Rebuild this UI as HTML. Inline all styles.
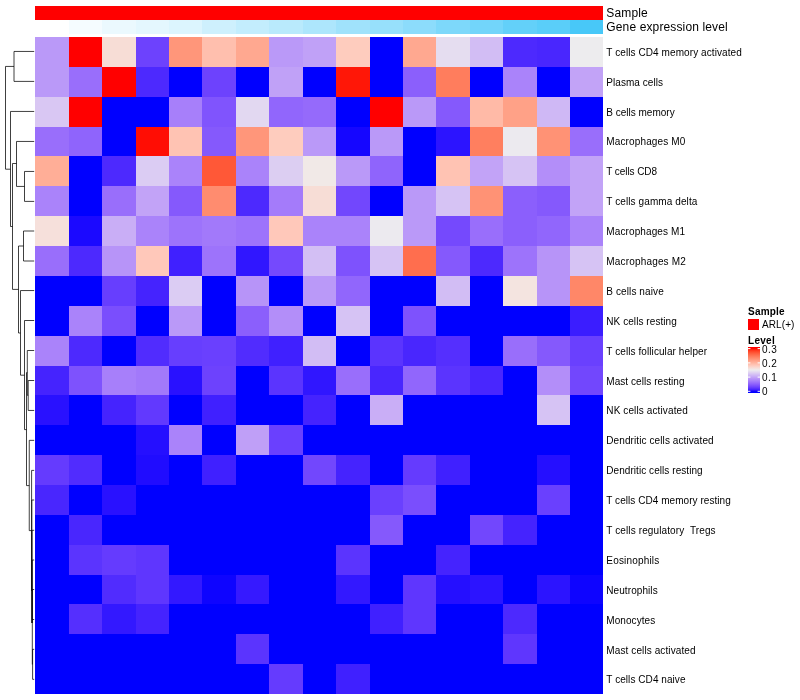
<!DOCTYPE html>
<html><head><meta charset="utf-8"><title>Heatmap</title>
<style>html,body{margin:0;padding:0;background:#fff}svg{display:block}</style></head>
<body>
<svg width="800" height="700" viewBox="0 0 800 700">
<rect width="800" height="700" fill="#fff"/>
<g shape-rendering="crispEdges">
<rect x="35" y="6" width="568" height="14" fill="#ff0000"/>
<rect x="35" y="20" width="34" height="14" fill="#ffffff"/>
<rect x="69" y="20" width="33" height="14" fill="#f5fcff"/>
<rect x="102" y="20" width="34" height="14" fill="#ebf9fe"/>
<rect x="136" y="20" width="33" height="14" fill="#e4f7fe"/>
<rect x="169" y="20" width="33" height="14" fill="#dcf5fe"/>
<rect x="202" y="20" width="34" height="14" fill="#cef0fd"/>
<rect x="236" y="20" width="33" height="14" fill="#c3edfd"/>
<rect x="269" y="20" width="34" height="14" fill="#b9eafc"/>
<rect x="303" y="20" width="33" height="14" fill="#ade6fc"/>
<rect x="336" y="20" width="34" height="14" fill="#a0e2fb"/>
<rect x="370" y="20" width="33" height="14" fill="#97e0fb"/>
<rect x="403" y="20" width="33" height="14" fill="#8cdcfb"/>
<rect x="436" y="20" width="34" height="14" fill="#7dd8fa"/>
<rect x="470" y="20" width="33" height="14" fill="#72d5fa"/>
<rect x="503" y="20" width="34" height="14" fill="#63d0f9"/>
<rect x="537" y="20" width="33" height="14" fill="#5acef9"/>
<rect x="570" y="20" width="33" height="14" fill="#48c8f8"/>
<rect x="35" y="37" width="34" height="30" fill="#ba99f8"/>
<rect x="69" y="37" width="33" height="30" fill="#ff0000"/>
<rect x="102" y="37" width="34" height="30" fill="#f7ddd6"/>
<rect x="136" y="37" width="33" height="30" fill="#6d42fd"/>
<rect x="169" y="37" width="33" height="30" fill="#ff967a"/>
<rect x="202" y="37" width="34" height="30" fill="#ffbfae"/>
<rect x="236" y="37" width="33" height="30" fill="#ffa890"/>
<rect x="269" y="37" width="34" height="30" fill="#ba99f8"/>
<rect x="303" y="37" width="33" height="30" fill="#c0a1f7"/>
<rect x="336" y="37" width="34" height="30" fill="#feccbe"/>
<rect x="370" y="37" width="33" height="30" fill="#0000ff"/>
<rect x="403" y="37" width="33" height="30" fill="#ffa890"/>
<rect x="436" y="37" width="34" height="30" fill="#e5ddf0"/>
<rect x="470" y="37" width="33" height="30" fill="#d2bdf4"/>
<rect x="503" y="37" width="34" height="30" fill="#4d29fe"/>
<rect x="537" y="37" width="33" height="30" fill="#4926fe"/>
<rect x="570" y="37" width="33" height="30" fill="#edecee"/>
<rect x="35" y="67" width="34" height="30" fill="#ba99f8"/>
<rect x="69" y="67" width="33" height="30" fill="#996efb"/>
<rect x="102" y="67" width="34" height="30" fill="#ff0000"/>
<rect x="136" y="67" width="33" height="30" fill="#4d29fe"/>
<rect x="169" y="67" width="33" height="30" fill="#0000ff"/>
<rect x="202" y="67" width="34" height="30" fill="#6d42fd"/>
<rect x="236" y="67" width="33" height="30" fill="#0000ff"/>
<rect x="269" y="67" width="34" height="30" fill="#c0a1f7"/>
<rect x="303" y="67" width="33" height="30" fill="#0000ff"/>
<rect x="336" y="67" width="34" height="30" fill="#ff1707"/>
<rect x="370" y="67" width="33" height="30" fill="#0000ff"/>
<rect x="403" y="67" width="33" height="30" fill="#8b5ffc"/>
<rect x="436" y="67" width="34" height="30" fill="#ff7d5d"/>
<rect x="470" y="67" width="33" height="30" fill="#0000ff"/>
<rect x="503" y="67" width="34" height="30" fill="#aa83fa"/>
<rect x="537" y="67" width="33" height="30" fill="#0000ff"/>
<rect x="570" y="67" width="33" height="30" fill="#c2a3f7"/>
<rect x="35" y="97" width="34" height="30" fill="#d9c7f3"/>
<rect x="69" y="97" width="33" height="30" fill="#ff0000"/>
<rect x="102" y="97" width="34" height="30" fill="#0000ff"/>
<rect x="136" y="97" width="33" height="30" fill="#0000ff"/>
<rect x="169" y="97" width="33" height="30" fill="#a77ffa"/>
<rect x="202" y="97" width="34" height="30" fill="#8054fd"/>
<rect x="236" y="97" width="33" height="30" fill="#e2d8f1"/>
<rect x="269" y="97" width="34" height="30" fill="#9166fc"/>
<rect x="303" y="97" width="33" height="30" fill="#956afb"/>
<rect x="336" y="97" width="34" height="30" fill="#0000ff"/>
<rect x="370" y="97" width="33" height="30" fill="#ff0000"/>
<rect x="403" y="97" width="33" height="30" fill="#ba99f8"/>
<rect x="436" y="97" width="34" height="30" fill="#8559fc"/>
<rect x="470" y="97" width="33" height="30" fill="#ffbaa7"/>
<rect x="503" y="97" width="34" height="30" fill="#ffa187"/>
<rect x="537" y="97" width="33" height="30" fill="#cfb8f5"/>
<rect x="570" y="97" width="33" height="30" fill="#0000ff"/>
<rect x="35" y="127" width="34" height="29" fill="#996efb"/>
<rect x="69" y="127" width="33" height="29" fill="#8f64fc"/>
<rect x="102" y="127" width="34" height="29" fill="#0000ff"/>
<rect x="136" y="127" width="33" height="29" fill="#ff0d04"/>
<rect x="169" y="127" width="33" height="29" fill="#ffc3b3"/>
<rect x="202" y="127" width="34" height="29" fill="#8559fc"/>
<rect x="236" y="127" width="33" height="29" fill="#ff967a"/>
<rect x="269" y="127" width="34" height="29" fill="#feccbe"/>
<rect x="303" y="127" width="33" height="29" fill="#ba99f8"/>
<rect x="336" y="127" width="34" height="29" fill="#1506ff"/>
<rect x="370" y="127" width="33" height="29" fill="#ba99f8"/>
<rect x="403" y="127" width="33" height="29" fill="#0000ff"/>
<rect x="436" y="127" width="34" height="29" fill="#2c14ff"/>
<rect x="470" y="127" width="33" height="29" fill="#ff7f5f"/>
<rect x="503" y="127" width="34" height="29" fill="#eceaef"/>
<rect x="537" y="127" width="33" height="29" fill="#ff9275"/>
<rect x="570" y="127" width="33" height="29" fill="#996efb"/>
<rect x="35" y="156" width="34" height="30" fill="#ffae97"/>
<rect x="69" y="156" width="33" height="30" fill="#0000ff"/>
<rect x="102" y="156" width="34" height="30" fill="#4d29fe"/>
<rect x="136" y="156" width="33" height="30" fill="#dbccf3"/>
<rect x="169" y="156" width="33" height="30" fill="#aa83fa"/>
<rect x="202" y="156" width="34" height="30" fill="#ff5837"/>
<rect x="236" y="156" width="33" height="30" fill="#aa83fa"/>
<rect x="269" y="156" width="34" height="30" fill="#dccef2"/>
<rect x="303" y="156" width="33" height="30" fill="#f1e9e7"/>
<rect x="336" y="156" width="34" height="30" fill="#ba99f8"/>
<rect x="370" y="156" width="33" height="30" fill="#8f64fc"/>
<rect x="403" y="156" width="33" height="30" fill="#0000ff"/>
<rect x="436" y="156" width="34" height="30" fill="#ffc3b3"/>
<rect x="470" y="156" width="33" height="30" fill="#c2a3f7"/>
<rect x="503" y="156" width="34" height="30" fill="#d6c3f4"/>
<rect x="537" y="156" width="33" height="30" fill="#b38ef9"/>
<rect x="570" y="156" width="33" height="30" fill="#c2a3f7"/>
<rect x="35" y="186" width="34" height="30" fill="#aa83fa"/>
<rect x="69" y="186" width="33" height="30" fill="#0000ff"/>
<rect x="102" y="186" width="34" height="30" fill="#996efb"/>
<rect x="136" y="186" width="33" height="30" fill="#c2a3f7"/>
<rect x="169" y="186" width="33" height="30" fill="#8559fc"/>
<rect x="202" y="186" width="34" height="30" fill="#ff8c6f"/>
<rect x="236" y="186" width="33" height="30" fill="#4d29fe"/>
<rect x="269" y="186" width="34" height="30" fill="#a47bfa"/>
<rect x="303" y="186" width="33" height="30" fill="#f7ddd6"/>
<rect x="336" y="186" width="34" height="30" fill="#7247fd"/>
<rect x="370" y="186" width="33" height="30" fill="#0000ff"/>
<rect x="403" y="186" width="33" height="30" fill="#ba99f8"/>
<rect x="436" y="186" width="34" height="30" fill="#d6c3f4"/>
<rect x="470" y="186" width="33" height="30" fill="#ff9275"/>
<rect x="503" y="186" width="34" height="30" fill="#8b5ffc"/>
<rect x="537" y="186" width="33" height="30" fill="#8559fc"/>
<rect x="570" y="186" width="33" height="30" fill="#c2a3f7"/>
<rect x="35" y="216" width="34" height="30" fill="#f6e0db"/>
<rect x="69" y="216" width="33" height="30" fill="#1b09ff"/>
<rect x="102" y="216" width="34" height="30" fill="#c9aef6"/>
<rect x="136" y="216" width="33" height="30" fill="#aa83fa"/>
<rect x="169" y="216" width="33" height="30" fill="#9d73fb"/>
<rect x="202" y="216" width="34" height="30" fill="#a279fa"/>
<rect x="236" y="216" width="33" height="30" fill="#9d73fb"/>
<rect x="269" y="216" width="34" height="30" fill="#ffc8ba"/>
<rect x="303" y="216" width="33" height="30" fill="#aa83fa"/>
<rect x="336" y="216" width="34" height="30" fill="#aa83fa"/>
<rect x="370" y="216" width="33" height="30" fill="#eceaef"/>
<rect x="403" y="216" width="33" height="30" fill="#ba99f8"/>
<rect x="436" y="216" width="34" height="30" fill="#7549fd"/>
<rect x="470" y="216" width="33" height="30" fill="#996efb"/>
<rect x="503" y="216" width="34" height="30" fill="#8b5ffc"/>
<rect x="537" y="216" width="33" height="30" fill="#9166fc"/>
<rect x="570" y="216" width="33" height="30" fill="#aa83fa"/>
<rect x="35" y="246" width="34" height="30" fill="#996efb"/>
<rect x="69" y="246" width="33" height="30" fill="#4d29fe"/>
<rect x="102" y="246" width="34" height="30" fill="#b794f8"/>
<rect x="136" y="246" width="33" height="30" fill="#ffc8ba"/>
<rect x="169" y="246" width="33" height="30" fill="#4020ff"/>
<rect x="202" y="246" width="34" height="30" fill="#9d73fb"/>
<rect x="236" y="246" width="33" height="30" fill="#3016ff"/>
<rect x="269" y="246" width="34" height="30" fill="#7549fd"/>
<rect x="303" y="246" width="33" height="30" fill="#d3bff4"/>
<rect x="336" y="246" width="34" height="30" fill="#7e52fd"/>
<rect x="370" y="246" width="33" height="30" fill="#d6c3f4"/>
<rect x="403" y="246" width="33" height="30" fill="#ff6e4e"/>
<rect x="436" y="246" width="34" height="30" fill="#8559fc"/>
<rect x="470" y="246" width="33" height="30" fill="#4d29fe"/>
<rect x="503" y="246" width="34" height="30" fill="#9d73fb"/>
<rect x="537" y="246" width="33" height="30" fill="#b794f8"/>
<rect x="570" y="246" width="33" height="30" fill="#d6c3f4"/>
<rect x="35" y="276" width="34" height="30" fill="#0000ff"/>
<rect x="69" y="276" width="33" height="30" fill="#0000ff"/>
<rect x="102" y="276" width="34" height="30" fill="#673efe"/>
<rect x="136" y="276" width="33" height="30" fill="#4523fe"/>
<rect x="169" y="276" width="33" height="30" fill="#dbccf3"/>
<rect x="202" y="276" width="34" height="30" fill="#0000ff"/>
<rect x="236" y="276" width="33" height="30" fill="#b794f8"/>
<rect x="269" y="276" width="34" height="30" fill="#0000ff"/>
<rect x="303" y="276" width="33" height="30" fill="#ba99f8"/>
<rect x="336" y="276" width="34" height="30" fill="#9166fc"/>
<rect x="370" y="276" width="33" height="30" fill="#0000ff"/>
<rect x="403" y="276" width="33" height="30" fill="#0000ff"/>
<rect x="436" y="276" width="34" height="30" fill="#d2bdf4"/>
<rect x="470" y="276" width="33" height="30" fill="#0000ff"/>
<rect x="503" y="276" width="34" height="30" fill="#f4e4e0"/>
<rect x="537" y="276" width="33" height="30" fill="#b794f8"/>
<rect x="570" y="276" width="33" height="30" fill="#ff8768"/>
<rect x="35" y="306" width="34" height="30" fill="#0000ff"/>
<rect x="69" y="306" width="33" height="30" fill="#aa83fa"/>
<rect x="102" y="306" width="34" height="30" fill="#7a4efd"/>
<rect x="136" y="306" width="33" height="30" fill="#0000ff"/>
<rect x="169" y="306" width="33" height="30" fill="#ba99f8"/>
<rect x="202" y="306" width="34" height="30" fill="#0000ff"/>
<rect x="236" y="306" width="33" height="30" fill="#8b5ffc"/>
<rect x="269" y="306" width="34" height="30" fill="#b38ef9"/>
<rect x="303" y="306" width="33" height="30" fill="#0000ff"/>
<rect x="336" y="306" width="34" height="30" fill="#d6c3f4"/>
<rect x="370" y="306" width="33" height="30" fill="#0000ff"/>
<rect x="403" y="306" width="33" height="30" fill="#7e52fd"/>
<rect x="436" y="306" width="34" height="30" fill="#0000ff"/>
<rect x="470" y="306" width="33" height="30" fill="#0000ff"/>
<rect x="503" y="306" width="34" height="30" fill="#0000ff"/>
<rect x="537" y="306" width="33" height="30" fill="#0000ff"/>
<rect x="570" y="306" width="33" height="30" fill="#3b1dff"/>
<rect x="35" y="336" width="34" height="30" fill="#aa83fa"/>
<rect x="69" y="336" width="33" height="30" fill="#4d29fe"/>
<rect x="102" y="336" width="34" height="30" fill="#0000ff"/>
<rect x="136" y="336" width="33" height="30" fill="#512cfe"/>
<rect x="169" y="336" width="33" height="30" fill="#673efe"/>
<rect x="202" y="336" width="34" height="30" fill="#6a40fe"/>
<rect x="236" y="336" width="33" height="30" fill="#512cfe"/>
<rect x="269" y="336" width="34" height="30" fill="#4020ff"/>
<rect x="303" y="336" width="33" height="30" fill="#d2bdf4"/>
<rect x="336" y="336" width="34" height="30" fill="#0000ff"/>
<rect x="370" y="336" width="33" height="30" fill="#5b34fe"/>
<rect x="403" y="336" width="33" height="30" fill="#4926fe"/>
<rect x="436" y="336" width="34" height="30" fill="#552ffe"/>
<rect x="470" y="336" width="33" height="30" fill="#0000ff"/>
<rect x="503" y="336" width="34" height="30" fill="#996efb"/>
<rect x="537" y="336" width="33" height="30" fill="#8559fc"/>
<rect x="570" y="336" width="33" height="30" fill="#6a40fe"/>
<rect x="35" y="366" width="34" height="29" fill="#4523fe"/>
<rect x="69" y="366" width="33" height="29" fill="#7e52fd"/>
<rect x="102" y="366" width="34" height="29" fill="#a77ffa"/>
<rect x="136" y="366" width="33" height="29" fill="#a279fa"/>
<rect x="169" y="366" width="33" height="29" fill="#2911ff"/>
<rect x="202" y="366" width="34" height="29" fill="#6d42fd"/>
<rect x="236" y="366" width="33" height="29" fill="#0000ff"/>
<rect x="269" y="366" width="34" height="29" fill="#5b34fe"/>
<rect x="303" y="366" width="33" height="29" fill="#3016ff"/>
<rect x="336" y="366" width="34" height="29" fill="#996efb"/>
<rect x="370" y="366" width="33" height="29" fill="#4926fe"/>
<rect x="403" y="366" width="33" height="29" fill="#9166fc"/>
<rect x="436" y="366" width="34" height="29" fill="#5b34fe"/>
<rect x="470" y="366" width="33" height="29" fill="#4926fe"/>
<rect x="503" y="366" width="34" height="29" fill="#0000ff"/>
<rect x="537" y="366" width="33" height="29" fill="#b38ef9"/>
<rect x="570" y="366" width="33" height="29" fill="#7247fd"/>
<rect x="35" y="395" width="34" height="30" fill="#2911ff"/>
<rect x="69" y="395" width="33" height="30" fill="#0000ff"/>
<rect x="102" y="395" width="34" height="30" fill="#4523fe"/>
<rect x="136" y="395" width="33" height="30" fill="#6239fe"/>
<rect x="169" y="395" width="33" height="30" fill="#0000ff"/>
<rect x="202" y="395" width="34" height="30" fill="#4020ff"/>
<rect x="236" y="395" width="33" height="30" fill="#0000ff"/>
<rect x="269" y="395" width="34" height="30" fill="#0000ff"/>
<rect x="303" y="395" width="33" height="30" fill="#4523fe"/>
<rect x="336" y="395" width="34" height="30" fill="#0000ff"/>
<rect x="370" y="395" width="33" height="30" fill="#c9aef6"/>
<rect x="403" y="395" width="33" height="30" fill="#0000ff"/>
<rect x="436" y="395" width="34" height="30" fill="#0000ff"/>
<rect x="470" y="395" width="33" height="30" fill="#0000ff"/>
<rect x="503" y="395" width="34" height="30" fill="#0000ff"/>
<rect x="537" y="395" width="33" height="30" fill="#d6c3f4"/>
<rect x="570" y="395" width="33" height="30" fill="#0000ff"/>
<rect x="35" y="425" width="34" height="30" fill="#0000ff"/>
<rect x="69" y="425" width="33" height="30" fill="#0000ff"/>
<rect x="102" y="425" width="34" height="30" fill="#0000ff"/>
<rect x="136" y="425" width="33" height="30" fill="#250fff"/>
<rect x="169" y="425" width="33" height="30" fill="#aa83fa"/>
<rect x="202" y="425" width="34" height="30" fill="#0000ff"/>
<rect x="236" y="425" width="33" height="30" fill="#bf9ff7"/>
<rect x="269" y="425" width="34" height="30" fill="#6a40fe"/>
<rect x="303" y="425" width="33" height="30" fill="#0000ff"/>
<rect x="336" y="425" width="34" height="30" fill="#0000ff"/>
<rect x="370" y="425" width="33" height="30" fill="#0000ff"/>
<rect x="403" y="425" width="33" height="30" fill="#0000ff"/>
<rect x="436" y="425" width="34" height="30" fill="#0000ff"/>
<rect x="470" y="425" width="33" height="30" fill="#0000ff"/>
<rect x="503" y="425" width="34" height="30" fill="#0000ff"/>
<rect x="537" y="425" width="33" height="30" fill="#0000ff"/>
<rect x="570" y="425" width="33" height="30" fill="#0000ff"/>
<rect x="35" y="455" width="34" height="30" fill="#653bfe"/>
<rect x="69" y="455" width="33" height="30" fill="#512cfe"/>
<rect x="102" y="455" width="34" height="30" fill="#0000ff"/>
<rect x="136" y="455" width="33" height="30" fill="#200cff"/>
<rect x="169" y="455" width="33" height="30" fill="#0000ff"/>
<rect x="202" y="455" width="34" height="30" fill="#4020ff"/>
<rect x="236" y="455" width="33" height="30" fill="#0000ff"/>
<rect x="269" y="455" width="34" height="30" fill="#0000ff"/>
<rect x="303" y="455" width="33" height="30" fill="#7247fd"/>
<rect x="336" y="455" width="34" height="30" fill="#4523fe"/>
<rect x="370" y="455" width="33" height="30" fill="#0000ff"/>
<rect x="403" y="455" width="33" height="30" fill="#653bfe"/>
<rect x="436" y="455" width="34" height="30" fill="#4020ff"/>
<rect x="470" y="455" width="33" height="30" fill="#0000ff"/>
<rect x="503" y="455" width="34" height="30" fill="#0000ff"/>
<rect x="537" y="455" width="33" height="30" fill="#250fff"/>
<rect x="570" y="455" width="33" height="30" fill="#0000ff"/>
<rect x="35" y="485" width="34" height="30" fill="#4926fe"/>
<rect x="69" y="485" width="33" height="30" fill="#0000ff"/>
<rect x="102" y="485" width="34" height="30" fill="#2911ff"/>
<rect x="136" y="485" width="33" height="30" fill="#0000ff"/>
<rect x="169" y="485" width="33" height="30" fill="#0000ff"/>
<rect x="202" y="485" width="34" height="30" fill="#0000ff"/>
<rect x="236" y="485" width="33" height="30" fill="#0000ff"/>
<rect x="269" y="485" width="34" height="30" fill="#0000ff"/>
<rect x="303" y="485" width="33" height="30" fill="#0000ff"/>
<rect x="336" y="485" width="34" height="30" fill="#0000ff"/>
<rect x="370" y="485" width="33" height="30" fill="#6a40fe"/>
<rect x="403" y="485" width="33" height="30" fill="#7a4efd"/>
<rect x="436" y="485" width="34" height="30" fill="#0000ff"/>
<rect x="470" y="485" width="33" height="30" fill="#0000ff"/>
<rect x="503" y="485" width="34" height="30" fill="#0000ff"/>
<rect x="537" y="485" width="33" height="30" fill="#6a40fe"/>
<rect x="570" y="485" width="33" height="30" fill="#0000ff"/>
<rect x="35" y="515" width="34" height="30" fill="#0000ff"/>
<rect x="69" y="515" width="33" height="30" fill="#4926fe"/>
<rect x="102" y="515" width="34" height="30" fill="#0000ff"/>
<rect x="136" y="515" width="33" height="30" fill="#0000ff"/>
<rect x="169" y="515" width="33" height="30" fill="#0000ff"/>
<rect x="202" y="515" width="34" height="30" fill="#0000ff"/>
<rect x="236" y="515" width="33" height="30" fill="#0000ff"/>
<rect x="269" y="515" width="34" height="30" fill="#0000ff"/>
<rect x="303" y="515" width="33" height="30" fill="#0000ff"/>
<rect x="336" y="515" width="34" height="30" fill="#0000ff"/>
<rect x="370" y="515" width="33" height="30" fill="#8559fc"/>
<rect x="403" y="515" width="33" height="30" fill="#0000ff"/>
<rect x="436" y="515" width="34" height="30" fill="#0000ff"/>
<rect x="470" y="515" width="33" height="30" fill="#7247fd"/>
<rect x="503" y="515" width="34" height="30" fill="#4523fe"/>
<rect x="537" y="515" width="33" height="30" fill="#0000ff"/>
<rect x="570" y="515" width="33" height="30" fill="#0000ff"/>
<rect x="35" y="545" width="34" height="30" fill="#0000ff"/>
<rect x="69" y="545" width="33" height="30" fill="#5b34fe"/>
<rect x="102" y="545" width="34" height="30" fill="#653bfe"/>
<rect x="136" y="545" width="33" height="30" fill="#5f36fe"/>
<rect x="169" y="545" width="33" height="30" fill="#0000ff"/>
<rect x="202" y="545" width="34" height="30" fill="#0000ff"/>
<rect x="236" y="545" width="33" height="30" fill="#0000ff"/>
<rect x="269" y="545" width="34" height="30" fill="#0000ff"/>
<rect x="303" y="545" width="33" height="30" fill="#0000ff"/>
<rect x="336" y="545" width="34" height="30" fill="#5b34fe"/>
<rect x="370" y="545" width="33" height="30" fill="#0000ff"/>
<rect x="403" y="545" width="33" height="30" fill="#0000ff"/>
<rect x="436" y="545" width="34" height="30" fill="#4523fe"/>
<rect x="470" y="545" width="33" height="30" fill="#0000ff"/>
<rect x="503" y="545" width="34" height="30" fill="#0000ff"/>
<rect x="537" y="545" width="33" height="30" fill="#0000ff"/>
<rect x="570" y="545" width="33" height="30" fill="#0000ff"/>
<rect x="35" y="575" width="34" height="29" fill="#0000ff"/>
<rect x="69" y="575" width="33" height="29" fill="#0000ff"/>
<rect x="102" y="575" width="34" height="29" fill="#512cfe"/>
<rect x="136" y="575" width="33" height="29" fill="#5f36fe"/>
<rect x="169" y="575" width="33" height="29" fill="#3318ff"/>
<rect x="202" y="575" width="34" height="29" fill="#0e04ff"/>
<rect x="236" y="575" width="33" height="29" fill="#3619ff"/>
<rect x="269" y="575" width="34" height="29" fill="#0000ff"/>
<rect x="303" y="575" width="33" height="29" fill="#0000ff"/>
<rect x="336" y="575" width="34" height="29" fill="#3318ff"/>
<rect x="370" y="575" width="33" height="29" fill="#0000ff"/>
<rect x="403" y="575" width="33" height="29" fill="#5f36fe"/>
<rect x="436" y="575" width="34" height="29" fill="#250fff"/>
<rect x="470" y="575" width="33" height="29" fill="#2c14ff"/>
<rect x="503" y="575" width="34" height="29" fill="#0000ff"/>
<rect x="537" y="575" width="33" height="29" fill="#2c14ff"/>
<rect x="570" y="575" width="33" height="29" fill="#0e04ff"/>
<rect x="35" y="604" width="34" height="30" fill="#0000ff"/>
<rect x="69" y="604" width="33" height="30" fill="#552ffe"/>
<rect x="102" y="604" width="34" height="30" fill="#3318ff"/>
<rect x="136" y="604" width="33" height="30" fill="#4523fe"/>
<rect x="169" y="604" width="33" height="30" fill="#0000ff"/>
<rect x="202" y="604" width="34" height="30" fill="#0000ff"/>
<rect x="236" y="604" width="33" height="30" fill="#0000ff"/>
<rect x="269" y="604" width="34" height="30" fill="#0000ff"/>
<rect x="303" y="604" width="33" height="30" fill="#0000ff"/>
<rect x="336" y="604" width="34" height="30" fill="#0000ff"/>
<rect x="370" y="604" width="33" height="30" fill="#4020ff"/>
<rect x="403" y="604" width="33" height="30" fill="#5f36fe"/>
<rect x="436" y="604" width="34" height="30" fill="#0000ff"/>
<rect x="470" y="604" width="33" height="30" fill="#0000ff"/>
<rect x="503" y="604" width="34" height="30" fill="#4d29fe"/>
<rect x="537" y="604" width="33" height="30" fill="#0000ff"/>
<rect x="570" y="604" width="33" height="30" fill="#0000ff"/>
<rect x="35" y="634" width="34" height="30" fill="#0000ff"/>
<rect x="69" y="634" width="33" height="30" fill="#0000ff"/>
<rect x="102" y="634" width="34" height="30" fill="#0000ff"/>
<rect x="136" y="634" width="33" height="30" fill="#0000ff"/>
<rect x="169" y="634" width="33" height="30" fill="#0000ff"/>
<rect x="202" y="634" width="34" height="30" fill="#0000ff"/>
<rect x="236" y="634" width="33" height="30" fill="#5b34fe"/>
<rect x="269" y="634" width="34" height="30" fill="#0000ff"/>
<rect x="303" y="634" width="33" height="30" fill="#0000ff"/>
<rect x="336" y="634" width="34" height="30" fill="#0000ff"/>
<rect x="370" y="634" width="33" height="30" fill="#0000ff"/>
<rect x="403" y="634" width="33" height="30" fill="#0000ff"/>
<rect x="436" y="634" width="34" height="30" fill="#0000ff"/>
<rect x="470" y="634" width="33" height="30" fill="#0000ff"/>
<rect x="503" y="634" width="34" height="30" fill="#5f36fe"/>
<rect x="537" y="634" width="33" height="30" fill="#0000ff"/>
<rect x="570" y="634" width="33" height="30" fill="#0000ff"/>
<rect x="35" y="664" width="34" height="30" fill="#0000ff"/>
<rect x="69" y="664" width="33" height="30" fill="#0000ff"/>
<rect x="102" y="664" width="34" height="30" fill="#0000ff"/>
<rect x="136" y="664" width="33" height="30" fill="#0000ff"/>
<rect x="169" y="664" width="33" height="30" fill="#0000ff"/>
<rect x="202" y="664" width="34" height="30" fill="#0000ff"/>
<rect x="236" y="664" width="33" height="30" fill="#0000ff"/>
<rect x="269" y="664" width="34" height="30" fill="#653bfe"/>
<rect x="303" y="664" width="33" height="30" fill="#0000ff"/>
<rect x="336" y="664" width="34" height="30" fill="#4020ff"/>
<rect x="370" y="664" width="33" height="30" fill="#0000ff"/>
<rect x="403" y="664" width="33" height="30" fill="#0000ff"/>
<rect x="436" y="664" width="34" height="30" fill="#0000ff"/>
<rect x="470" y="664" width="33" height="30" fill="#0000ff"/>
<rect x="503" y="664" width="34" height="30" fill="#0000ff"/>
<rect x="537" y="664" width="33" height="30" fill="#0000ff"/>
<rect x="570" y="664" width="33" height="30" fill="#0000ff"/>
</g>
<g font-family="'Liberation Sans', Arial, sans-serif" fill="#000">
<text x="606.3" y="16.5" font-size="12" textLength="41.5">Sample</text>
<text x="606.3" y="31" font-size="12" textLength="121.4">Gene expression level</text>
<text x="606.3" y="56" font-size="10" style="white-space:pre" textLength="135.45" lengthAdjust="spacing">T cells CD4 memory activated</text>
<text x="606.3" y="86" font-size="10" style="white-space:pre" textLength="56.64" lengthAdjust="spacing">Plasma cells</text>
<text x="606.3" y="116" font-size="10" style="white-space:pre" textLength="68.36" lengthAdjust="spacing">B cells memory</text>
<text x="606.3" y="145" font-size="10" style="white-space:pre" textLength="79.02" lengthAdjust="spacing">Macrophages M0</text>
<text x="606.3" y="175" font-size="10" style="white-space:pre" textLength="50.75" lengthAdjust="spacing">T cells CD8</text>
<text x="606.3" y="205" font-size="10" style="white-space:pre" textLength="91.05" lengthAdjust="spacing">T cells gamma delta</text>
<text x="606.3" y="235" font-size="10" style="white-space:pre" textLength="78.77" lengthAdjust="spacing">Macrophages M1</text>
<text x="606.3" y="265" font-size="10" style="white-space:pre" textLength="79.52" lengthAdjust="spacing">Macrophages M2</text>
<text x="606.3" y="295" font-size="10" style="white-space:pre" textLength="57.39" lengthAdjust="spacing">B cells naive</text>
<text x="606.3" y="325" font-size="10" style="white-space:pre" textLength="70.47" lengthAdjust="spacing">NK cells resting</text>
<text x="606.3" y="355" font-size="10" style="white-space:pre" textLength="100.75" lengthAdjust="spacing">T cells follicular helper</text>
<text x="606.3" y="385" font-size="10" style="white-space:pre" textLength="78.25" lengthAdjust="spacing">Mast cells resting</text>
<text x="606.3" y="414" font-size="10" style="white-space:pre" textLength="81.48" lengthAdjust="spacing">NK cells activated</text>
<text x="606.3" y="444" font-size="10" style="white-space:pre" textLength="107.30" lengthAdjust="spacing">Dendritic cells activated</text>
<text x="606.3" y="474" font-size="10" style="white-space:pre" textLength="96.30" lengthAdjust="spacing">Dendritic cells resting</text>
<text x="606.3" y="504" font-size="10" style="white-space:pre" textLength="124.44" lengthAdjust="spacing">T cells CD4 memory resting</text>
<text x="606.3" y="534" font-size="10" style="white-space:pre" textLength="109.28" lengthAdjust="spacing">T cells regulatory  Tregs</text>
<text x="606.3" y="564" font-size="10" style="white-space:pre" textLength="52.91" lengthAdjust="spacing">Eosinophils</text>
<text x="606.3" y="594" font-size="10" style="white-space:pre" textLength="51.34" lengthAdjust="spacing">Neutrophils</text>
<text x="606.3" y="624" font-size="10" style="white-space:pre" textLength="48.86" lengthAdjust="spacing">Monocytes</text>
<text x="606.3" y="654" font-size="10" style="white-space:pre" textLength="89.27" lengthAdjust="spacing">Mast cells activated</text>
<text x="606.3" y="683" font-size="10" style="white-space:pre" textLength="79.19" lengthAdjust="spacing">T cells CD4 naive</text>
<text x="748.1" y="315" font-size="10" font-weight="bold" textLength="36.4">Sample</text>
<text x="762" y="327.8" font-size="10" textLength="32.4">ARL(+)</text>
<text x="748.1" y="343.6" font-size="10" font-weight="bold" textLength="26.6">Level</text>
<text x="762" y="352.8" font-size="10" textLength="14.9">0.3</text>
<text x="762" y="367.0" font-size="10" textLength="14.9">0.2</text>
<text x="762" y="380.5" font-size="10" textLength="14.9">0.1</text>
<text x="762" y="394.6" font-size="10">0</text>
</g>
<rect x="748" y="319" width="11" height="11" fill="#ff0000" shape-rendering="crispEdges"/>
<defs><linearGradient id="lg" x1="0" y1="1" x2="0" y2="0">
<stop offset="0.0000" stop-color="#0000ff"/>
<stop offset="0.0217" stop-color="#0000ff"/>
<stop offset="0.0435" stop-color="#1a08ff"/>
<stop offset="0.0652" stop-color="#3c1dff"/>
<stop offset="0.0870" stop-color="#502bfe"/>
<stop offset="0.1087" stop-color="#6037fe"/>
<stop offset="0.1304" stop-color="#6d43fd"/>
<stop offset="0.1522" stop-color="#794dfd"/>
<stop offset="0.1739" stop-color="#8458fc"/>
<stop offset="0.1957" stop-color="#8e62fc"/>
<stop offset="0.2174" stop-color="#976cfb"/>
<stop offset="0.2391" stop-color="#9f76fb"/>
<stop offset="0.2609" stop-color="#a780fa"/>
<stop offset="0.2826" stop-color="#af8af9"/>
<stop offset="0.3043" stop-color="#b793f8"/>
<stop offset="0.3261" stop-color="#be9df7"/>
<stop offset="0.3478" stop-color="#c4a7f7"/>
<stop offset="0.3696" stop-color="#cbb1f6"/>
<stop offset="0.3913" stop-color="#d1bbf5"/>
<stop offset="0.4130" stop-color="#d7c5f3"/>
<stop offset="0.4348" stop-color="#ddcff2"/>
<stop offset="0.4565" stop-color="#e3d9f1"/>
<stop offset="0.4783" stop-color="#e8e3f0"/>
<stop offset="0.5000" stop-color="#eeedee"/>
<stop offset="0.5217" stop-color="#f2e6e3"/>
<stop offset="0.5435" stop-color="#f7ded8"/>
<stop offset="0.5652" stop-color="#fad6cd"/>
<stop offset="0.5870" stop-color="#fdcec2"/>
<stop offset="0.6087" stop-color="#ffc6b7"/>
<stop offset="0.6304" stop-color="#ffbeac"/>
<stop offset="0.6522" stop-color="#ffb6a1"/>
<stop offset="0.6739" stop-color="#ffad96"/>
<stop offset="0.6957" stop-color="#ffa58c"/>
<stop offset="0.7174" stop-color="#ff9c81"/>
<stop offset="0.7391" stop-color="#ff9377"/>
<stop offset="0.7609" stop-color="#ff8b6c"/>
<stop offset="0.7826" stop-color="#ff8162"/>
<stop offset="0.8043" stop-color="#ff7858"/>
<stop offset="0.8261" stop-color="#ff6e4e"/>
<stop offset="0.8478" stop-color="#ff6443"/>
<stop offset="0.8696" stop-color="#ff5939"/>
<stop offset="0.8913" stop-color="#ff4d2e"/>
<stop offset="0.9130" stop-color="#ff4023"/>
<stop offset="0.9348" stop-color="#ff2f17"/>
<stop offset="0.9565" stop-color="#ff1607"/>
<stop offset="0.9783" stop-color="#ff0000"/>
<stop offset="1.0000" stop-color="#ff0000"/>
</linearGradient></defs>
<rect x="748" y="347" width="12" height="46" fill="url(#lg)" shape-rendering="crispEdges"/>
<path d="M748 348.6h2.4M757.6 348.6h2.4" stroke="#fff" stroke-width="1" fill="none"/>
<path d="M748 362.9h2.4M757.6 362.9h2.4" stroke="#fff" stroke-width="1" fill="none"/>
<path d="M748 377.1h2.4M757.6 377.1h2.4" stroke="#fff" stroke-width="1" fill="none"/>
<path d="M748 391.3h2.4M757.6 391.3h2.4" stroke="#fff" stroke-width="1" fill="none"/>
<path d="M14.00 51.45L34.20 51.45M14.00 81.40L34.20 81.40M14.00 51.45L14.00 81.40M5.50 66.43L14.00 66.43M5.50 66.43L5.50 169.20M5.50 169.20L10.50 169.20M10.50 111.45L34.20 111.45M10.50 111.45L10.50 226.50M10.50 226.50L12.50 226.50M12.50 163.50L12.50 289.40M12.50 163.50L16.50 163.50M12.50 289.40L18.50 289.40M16.50 141.45L34.20 141.45M16.50 141.45L16.50 186.43M16.50 186.43L24.50 186.43M24.50 171.45L34.20 171.45M24.50 201.40L34.20 201.40M24.50 171.45L24.50 201.40M23.50 231.00L34.20 231.00M23.50 261.00L34.20 261.00M23.50 231.00L23.50 261.00M18.50 246.00L23.50 246.00M18.50 246.00L18.50 333.00M18.50 333.00L20.50 333.00M20.50 290.55L34.20 290.55M20.50 290.55L20.50 375.20M20.50 375.20L24.50 375.20M24.50 320.50L34.20 320.50M24.50 320.50L24.50 429.60M24.50 429.60L26.50 429.60M26.50 372.60L26.50 485.60M26.50 372.60L27.30 372.60M26.50 485.60L29.25 485.60M27.30 350.50L34.20 350.50M27.30 350.50L27.30 395.30M27.30 395.30L28.20 395.30M28.20 380.50L34.20 380.50M28.20 410.45L34.20 410.45M28.20 380.50L28.20 410.45M29.25 440.35L34.20 440.35M29.25 440.35L29.25 530.60M29.25 530.60L31.60 530.60M31.60 470.40L34.20 470.40M31.60 470.40L31.60 591.00M31.80 500.00L34.20 500.00M31.80 500.00L31.80 623.00M32.00 530.30L34.20 530.30M32.00 530.30L32.00 623.00M32.20 560.00L34.20 560.00M32.20 560.00L32.20 623.00M32.30 589.50L34.20 589.50M32.30 589.50L32.30 664.50M32.30 619.50L34.20 619.50M32.60 649.35L34.20 649.35M32.60 679.35L34.20 679.35M32.60 649.35L32.60 679.35" stroke="#000" stroke-width="0.75" fill="none" stroke-linecap="butt"/>
</svg>
</body></html>
